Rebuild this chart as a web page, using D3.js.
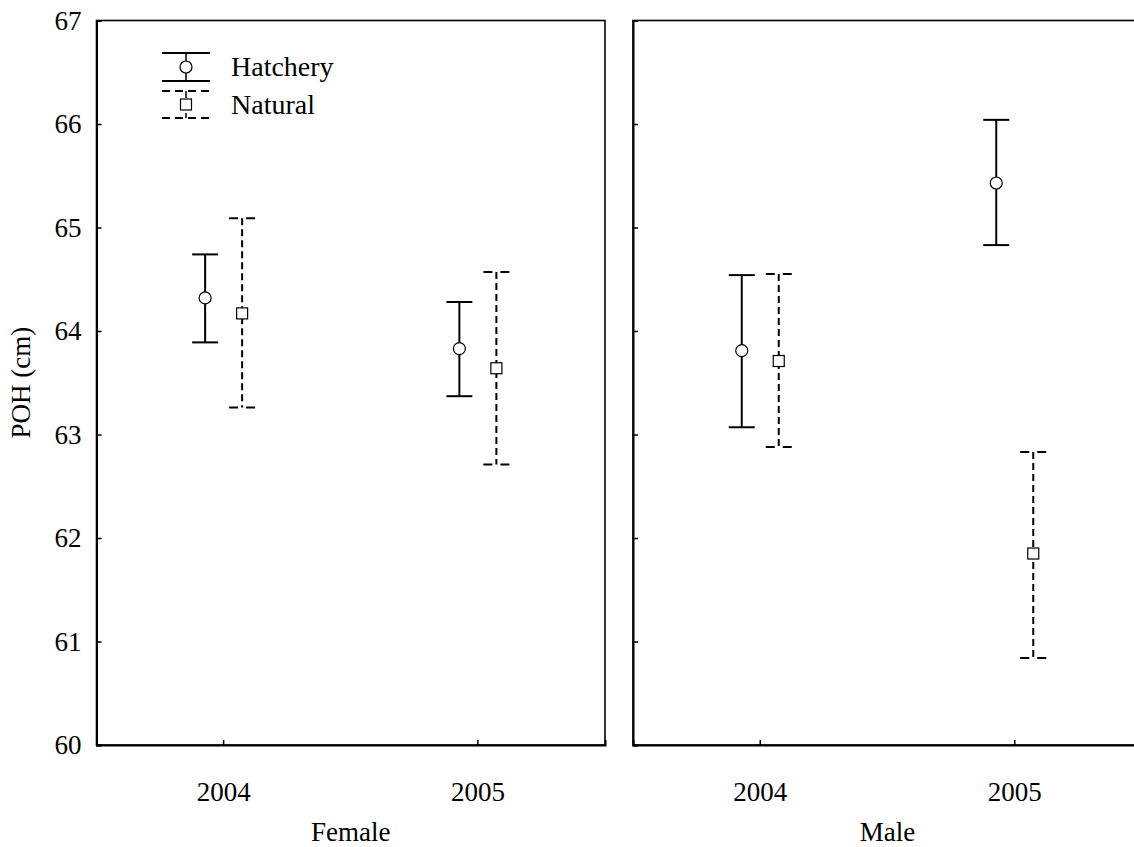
<!DOCTYPE html>
<html>
<head>
<meta charset="utf-8">
<script src="https://cdn.jsdelivr.net/npm/d3@7"></script>
<style>
  body { margin: 0; background: #fff; }
  text { font-family: "Liberation Serif", "Times New Roman", serif; fill: #000; }
</style>
</head>
<body>
<script>
"use strict";

// categories
const years = ["2004", "2005"];
const sexes = ["Female", "Male"];
const groups = ["Hatchery", "Natural"];
const yTicks = [60, 61, 62, 63, 64, 65, 66, 67];

// [mean, lower, upper] per year (2004, 2005)
const femaleHatchery = [[64.32, 63.89, 64.74], [63.83, 63.37, 64.28]];
const femaleNatural  = [[64.17, 63.26, 65.09], [63.64, 62.71, 64.57]];
const maleHatchery   = [[63.81, 63.07, 64.54], [65.43, 64.83, 66.04]];
const maleNatural    = [[63.71, 62.88, 64.55], [61.85, 60.84, 62.83]];

const panelData = {
    Female: { Hatchery: femaleHatchery, Natural: femaleNatural },
    Male:   { Hatchery: maleHatchery,   Natural: maleNatural }
};

const width = 1134, height = 847;
const plotTop = 20.5, plotBottom = 745;
const panelRanges = { Female: [96.5, 605], Male: [633, 1142] };
const fontSize = 27;

const svg = d3.select("body").append("svg")
    .attr("width", width)
    .attr("height", height);

const y = d3.scaleLinear().domain([60, 67]).range([plotBottom, plotTop]);
const offset = d3.scalePoint().domain(groups).range([-18.5, 18.5]);

const styles = {
    Hatchery: { dash: null, capDash: null },
    Natural:  { dash: "7,4", capDash: "9,8" }
};

function drawMarker(g, group, cx, cy) {
    if (group === "Hatchery") {
        g.append("circle")
            .attr("cx", cx).attr("cy", cy).attr("r", 6)
            .attr("fill", "#fff").attr("stroke", "#000").attr("stroke-width", 1.2);
    } else {
        g.append("rect")
            .attr("x", cx - 5.5).attr("y", cy - 5.5)
            .attr("width", 11).attr("height", 11)
            .attr("fill", "#fff").attr("stroke", "#000").attr("stroke-width", 1.2);
    }
}

sexes.forEach(function(sex, si) {
    const x = d3.scaleBand().domain(years).range(panelRanges[sex]);
    const g = svg.append("g");

    // frame
    g.append("rect")
        .attr("x", x.range()[0]).attr("y", plotTop)
        .attr("width", x.range()[1] - x.range()[0]).attr("height", plotBottom - plotTop)
        .attr("fill", "none").attr("stroke", "#000").attr("stroke-width", 1.6);

    const yAxis = d3.axisLeft(y).tickValues(yTicks).tickSize(-5).tickPadding(15)
        .tickFormat(si > 0 ? "" : d3.format("d"));
    g.append("g")
        .attr("transform", "translate(" + x.range()[0] + ",0)")
        .call(yAxis)
        .call(a => a.select(".domain").attr("stroke-width", 2))
        .call(a => a.selectAll(".tick line").attr("stroke-width", 1.5))
        .call(a => a.selectAll("text").style("font-size", fontSize + "px")
            .style("font-family", "Liberation Serif"));

    g.append("g")
        .attr("transform", "translate(0," + plotBottom + ")")
        .call(d3.axisBottom(x).tickSize(-5).tickPadding(37))
        .call(a => a.select(".domain").attr("stroke-width", 2))
        .call(a => a.selectAll(".tick line").attr("stroke-width", 1.5))
        .call(a => a.selectAll("text").style("font-size", fontSize + "px")
            .style("font-family", "Liberation Serif"));

    // panel label
    g.append("text")
        .attr("x", (x.range()[0] + x.range()[1]) / 2)
        .attr("y", 841)
        .attr("text-anchor", "middle")
        .style("font-size", fontSize + "px")
        .text(sex);

    // error bars
    groups.forEach(function(group) {
        const rows = panelData[sex][group];
        const st = styles[group];
        rows.forEach(function(d, i) {
            const cx = x(years[i]) + x.bandwidth() / 2 + offset(group);
            const bar = g.append("g");
            bar.append("line")
                .attr("x1", cx).attr("x2", cx)
                .attr("y1", y(d[2])).attr("y2", y(d[1]))
                .attr("stroke", "#000").attr("stroke-width", 2)
                .attr("stroke-dasharray", st.dash);
            [d[1], d[2]].forEach(function(v) {
                bar.append("line")
                    .attr("x1", cx - 13).attr("x2", cx + 13)
                    .attr("y1", y(v)).attr("y2", y(v))
                    .attr("stroke", "#000").attr("stroke-width", 2)
                    .attr("stroke-dasharray", st.capDash);
            });
            drawMarker(bar, group, cx, y(d[0]));
        });
    });
});

// y axis title
svg.append("text")
    .attr("transform", "translate(30," + ((plotTop + plotBottom) / 2) + ") rotate(-90)")
    .attr("text-anchor", "middle")
    .style("font-size", fontSize + "px")
    .text("POH (cm)");

// legend
const legend = svg.append("g");
const legendRows = [
    { group: "Hatchery", y1: 53, y2: 81 },
    { group: "Natural", y1: 91, y2: 118 }
];
legendRows.forEach(function(r) {
    const st = styles[r.group];
    const cx = 186, mid = (r.y1 + r.y2) / 2;
    legend.append("line")
        .attr("x1", cx).attr("x2", cx).attr("y1", r.y1).attr("y2", r.y2)
        .attr("stroke", "#000").attr("stroke-width", 1.5)
        .attr("stroke-dasharray", st.dash);
    [r.y1, r.y2].forEach(function(v) {
        legend.append("line")
            .attr("x1", 162).attr("x2", 210).attr("y1", v).attr("y2", v)
            .attr("stroke", "#000").attr("stroke-width", 2)
            .attr("stroke-dasharray", st.dash ? "8,5" : null);
    });
    drawMarker(legend, r.group, cx, mid);
    legend.append("text")
        .attr("x", 231).attr("y", mid + 9)
        .style("font-size", "28px")
        .text(r.group);
});
</script>
</body>
</html>
